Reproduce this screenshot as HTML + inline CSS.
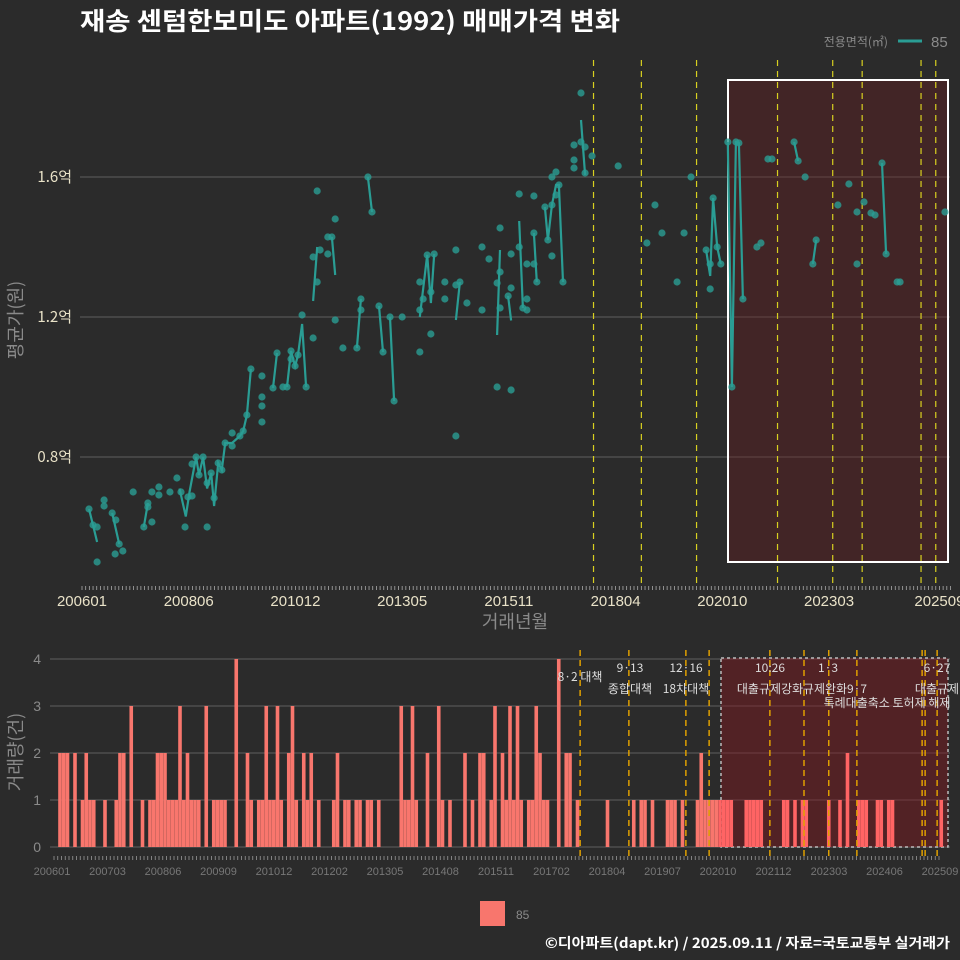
<!DOCTYPE html>
<html><head><meta charset="utf-8">
<style>
html,body{margin:0;padding:0;background:#2b2b2b;}
svg{display:block;font-family:"Liberation Sans","Noto Sans CJK KR",sans-serif;}
</style></head>
<body>
<svg id="chart" width="960" height="960" viewBox="0 0 960 960" xmlns="http://www.w3.org/2000/svg">
<rect x="0" y="0" width="960" height="960" fill="#2b2b2b"/>
<text x="80" y="30" fill="#ffffff" font-size="25" font-weight="bold" textLength="540" lengthAdjust="spacingAndGlyphs" font-family="'Noto Sans CJK KR',sans-serif">재송 센텀한보미도 아파트(1992) 매매가격 변화</text>
<g>
<text x="888" y="46" fill="#8a8a8a" font-size="12" text-anchor="end" font-family="'Noto Sans CJK KR',sans-serif">전용면적(㎡)</text>
<line x1="898" y1="41" x2="922" y2="41" stroke="#2a9d94" stroke-width="3"/>
<text x="931" y="47" fill="#8a8a8a" font-size="15">85</text>
</g>
<g id="top"></g>
<g id="bot"></g>
<g>
<rect x="480" y="901" width="25" height="25" fill="#f8766d"/>
<text x="516" y="919" fill="#8a8a8a" font-size="12">85</text>
</g>
<text x="950" y="948" fill="#ffffff" font-size="14" font-weight="bold" text-anchor="end" textLength="405" lengthAdjust="spacingAndGlyphs" font-family="'Noto Sans CJK KR',sans-serif">©디아파트(dapt.kr) / 2025.09.11 / 자료=국토교통부 실거래가</text>
</svg>
<script>
// ---- data (month index k = months since 2006-01; price in 만원) ----
var tradeMonths = [1.9,3.0,4.1,4.1,6.0,6.0,8.2,9.2,10.1,9.0,11.1,13.9,16.8,17.9,17.9,19.0,19.0,20.9,20.9,23.9,25.8,26.9,28.0,28.8,29.9,29.9,31.0,31.8,32.9,34.0,34.0,35.1,35.9,37.0,38.0,38.9,40.8,40.8,42.9,43.8,44.8,45.9,48.9,48.9,48.9,48.9,51.9,53.0,54.6,55.7,56.8,56.8,57.9,58.7,59.8,60.9,62.8,62.8,63.9,63.9,64.7,66.8,67.9,66.8,68.8,68.8,70.9,74.7,75.8,75.8,77.7,78.8,80.7,81.8,83.7,84.8,87.0,91.8,91.8,91.8,92.7,93.8,94.8,94.8,95.7,98.6,98.6,101.6,101.6,101.6,102.7,104.6,108.7,108.7,110.6,112.8,112.8,113.6,113.6,116.6,116.6,116.6,115.8,118.8,118.8,113.6,119.8,120.9,120.9,120.9,122.8,122.8,122.8,123.6,125.8,126.6,127.7,127.7,127.7,128.8,128.8,129.6,130.7,133.7,133.7,133.7,135.6,135.6,136.7,136.7,138.6,145.7,153.5,155.7,157.6,161.7,163.6,165.5,169.6,170.7,170.7,171.5,172.6,173.6,175.5,176.6,177.7,178.5,179.6,183.4,184.5,186.4,187.5,193.5,194.6,196.5,198.6,199.5,205.4,208.4,210.6,210.6,212.5,214.4,215.5,217.4,218.5,221.5,222.3,234.5];
var tradePrices = [6514,6057,6000,5000,6771,6600,6400,6200,5514,5229,5314,7000,6000,6686,6571,6143,7000,7143,6914,7000,7400,7000,6000,6857,7800,6886,8000,7486,8000,6000,7257,7543,6829,7829,7629,8400,8686,8314,8600,8743,9200,10514,10314,9714,9457,9000,9971,10971,10000,10000,11029,10800,10600,10914,12057,10000,11400,13714,13000,15600,13914,14286,14286,13800,14800,11914,11114,11114,12514,12200,16000,15000,12314,11000,12000,9600,12000,13000,12200,11000,12514,13771,12714,11514,13800,13000,12514,13914,12914,8600,13000,12400,14000,12200,13657,12971,10000,14543,13286,13800,12829,9914,12600,15514,14000,12257,12257,12200,12514,13514,13514,14400,15457,13000,15143,14200,15200,13743,16000,16143,15486,15771,13000,16914,16486,16257,18400,17000,16857,16114,16600,16314,14114,15200,14400,13000,14400,16000,13914,12800,13514,15400,14000,13514,17000,10000,17000,16971,12514,14000,14114,16514,16514,17000,16457,16000,13514,14200,15200,15800,15000,13514,15286,14971,14914,16400,13800,13000,13000,15000];
// monthly-average line segments (null = break)
var avgMonths = [1.9,3.0,4.1,null,8.2,10.1,null,16.8,17.9,null,26.5,28.2,29.2,31.0,31.8,32.9,34.0,35.1,35.9,37.0,38.0,38.9,40.8,42.9,43.8,44.8,45.9,null,51.9,53.0,null,55.7,56.8,57.9,58.7,59.8,60.9,null,62.8,63.9,null,67.9,68.8,null,74.7,75.8,null,77.7,78.8,null,80.7,81.8,null,83.7,84.8,null,91.8,93.8,94.8,95.7,null,101.6,102.7,null,113.6,112.8,null,115.8,116.6,null,118.8,119.8,null,122.8,123.6,null,125.8,126.6,127.7,128.8,129.6,130.7,null,135.6,136.7,null,169.6,170.7,171.5,172.6,173.6,null,175.5,176.6,177.7,178.5,179.6,null,193.5,194.6,null,198.6,199.5,null,217.4,218.5];
var avgPrices = [6514,6057,5571,null,6400,5514,null,6000,6686,null,7100,6300,7000,8000,7486,8000,7100,7543,6600,7829,7629,8400,8400,8600,8743,9200,10514,null,9971,10971,null,10000,11029,10600,10914,11800,10000,null,12457,14000,null,14286,13200,null,11114,12514,null,16000,15000,null,12314,11000,null,12000,9600,null,12000,13771,12400,13800,null,11914,13000,null,13914,11486,null,12600,11900,null,14743,12257,null,14400,13000,null,15143,14200,15200,15771,15771,13000,null,17629,16057,null,13914,13171,15400,14000,13514,null,17000,10000,17000,16971,12514,null,17000,16457,null,13514,14200,null,16400,13800];
var priceTicks = [8000,12000,16000];
var priceTickLabels = ["0.8억","1.2억","1.6억"];
var topXTickMonths = [0,29,58,87,116,145,174,203,233];
var topXTickLabels = ["200601","200806","201012","201305","201511","201804","202010","202303","202509"];
var topPolicyMonths = [139,152,167,189,204,212,228,232];
// monthly trade counts k=0..236
var volumes = [
2,2,2,0,2,0,1,2,1,1, 0,0,1,0,0,1,2,2,0,3, 0,0,1,0,1,1,2,2,2,1, 1,1,3,1,2,1,1,1,0,3,
0,1,1,1,1,0,0,4,0,0, 2,1,0,1,1,3,1,1,3,1, 0,2,3,1,0,2,1,2,0,1, 0,0,0,1,2,0,1,1,0,1,
1,0,1,1,0,1,0,0,0,0, 0,3,1,1,3,1,0,0,2,0, 0,3,1,0,1,0,0,0,2,0, 1,0,2,2,0,1,3,0,2,1,
3,1,3,1,0,1,1,3,2,1, 1,0,0,4,0,2,2,0,1,0, 0,0,0,0,0,0,1,0,0,0, 0,0,0,1,0,1,1,0,1,0,
0,0,1,1,1,0,1,0,0,0, 1,2,1,1,1,1,1,1,1,1, 0,0,0,1,1,1,1,1,0,0, 0,0,0,1,1,0,1,0,1,1,
0,0,0,0,0,1,0,0,1,0, 2,0,0,1,1,1,0,0,1,1, 0,1,1,0,0,0,0,0,0,0, 0,0,0,0,0,1,0];
var volTicks = [0,1,2,3,4];
var botXTickLabels = ["200601","200703","200806","200909","201012","201202","201305","201408","201511","201702","201804","201907","202010","202112","202303","202406","202509"];
var botPolicyMonths = [138.7,151.7,166.9,173.1,189.3,198.4,205,212.5,229.9,230.7,233.9];

// ---- scales ----
function tx(k){return 82+k*3.68;}
function ty(v){return 457-(v-8000)/10000*350;}
function bx(k){return 60+k*3.75;}
function by(c){return 847-c*47;}
var NS="http://www.w3.org/2000/svg";
function mk(tag,attrs,parent){var e=document.createElementNS(NS,tag);for(var a in attrs)e.setAttribute(a,attrs[a]);parent.appendChild(e);return e;}
var top_=document.getElementById('top'), bot=document.getElementById('bot');

// ---- top panel ----
var i,e;
for(i=0;i<priceTicks.length;i++){
 e=mk('line',{x1:80,x2:950,y1:ty(priceTicks[i]),y2:ty(priceTicks[i]),stroke:'#555',"stroke-width":1.2},top_);
 
 
 e=mk('text',{x:72,y:ty(priceTicks[i])+5,fill:'#e9e2c8',"font-size":15,"text-anchor":"end","font-family":"'Noto Sans CJK KR',sans-serif"},top_);
 e.textContent=priceTickLabels[i];
 
 
}
e=mk('rect',{x:728,y:80,width:220,height:482,fill:'rgba(110,25,30,0.35)',stroke:'#ffffff',"stroke-width":2},top_);


for(i=0;i<topPolicyMonths.length;i++){
 e=mk('line',{x1:tx(topPolicyMonths[i]),x2:tx(topPolicyMonths[i]),y1:60,y2:585,stroke:'#d8d020',"stroke-width":1.2,"stroke-dasharray":"6,5"},top_);
 
 
}
var d='',pen=false;
for(i=0;i<avgMonths.length;i++){
 if(avgMonths[i]===null){pen=false;continue;}
 d+=(pen?'L':'M')+tx(avgMonths[i]).toFixed(1)+','+ty(avgPrices[i]).toFixed(1);pen=true;
}
e=mk('path',{d:d,fill:'none',stroke:'#2a9d94',"stroke-width":2.2},top_);


for(i=0;i<tradeMonths.length;i++){
 e=mk('circle',{cx:tx(tradeMonths[i]),cy:ty(tradePrices[i]),r:3.6,fill:'#2a9d94',"fill-opacity":0.8},top_);
 
 
}
for(i=0;i<=236;i++){
 e=mk('line',{x1:tx(i),x2:tx(i),y1:586,y2:590,stroke:'#aaa',"stroke-width":0.8},top_);
 
 
}
for(i=0;i<topXTickMonths.length;i++){
 e=mk('text',{x:tx(topXTickMonths[i]),y:606,fill:'#e9e2c8',"font-size":15,"text-anchor":"middle"},top_);
 e.textContent=topXTickLabels[i];
 
 
}
e=mk('text',{x:515,y:628,fill:'#8a8a8a',"font-size":18,"text-anchor":"middle","font-family":"'Noto Sans CJK KR',sans-serif"},top_);
e.textContent='거래년월';


e=mk('text',{x:0,y:0,fill:'#8a8a8a',"font-size":18,"text-anchor":"middle",transform:'translate(22,320) rotate(-90)',"font-family":"'Noto Sans CJK KR',sans-serif"},top_);
e.textContent='평균가(원)';



// ---- bottom panel ----
for(i=0;i<volTicks.length;i++){
 e=mk('line',{x1:50,x2:950,y1:by(volTicks[i]),y2:by(volTicks[i]),stroke:'#555',"stroke-width":1.2},bot);
 
 
 e=mk('text',{x:41,y:by(volTicks[i])+5,fill:'#8a8a8a',"font-size":14,"text-anchor":"end"},bot);
 e.textContent=String(volTicks[i]);
 
 
}
e=mk('rect',{x:721,y:658,width:227,height:189,fill:'rgba(130,25,30,0.45)',stroke:'#bbb',"stroke-width":1.5,"stroke-dasharray":"3,3"},bot);


for(i=0;i<volumes.length;i++){
 if(!volumes[i])continue;
 e=mk('rect',{x:bx(i)-1.8,y:by(volumes[i]),width:3.6,height:volumes[i]*47,fill:(i>=176?'#ff6464':'#f8766d')},bot);
 
 
}
for(i=0;i<botPolicyMonths.length;i++){
 e=mk('line',{x1:bx(botPolicyMonths[i]),x2:bx(botPolicyMonths[i]),y1:650,y2:857,stroke:'#e0a000',"stroke-width":1.5,"stroke-dasharray":"6,4"},bot);
 
 
}
var annEl=[
 ['8·2 대책',580,681],['9·13',630,672],['종합대책',630,693],['12·16',686,672],['18차대책',686,693],
 ['10:26',770,672],['대출규제강화',770,693],['1·3',828,672],['규제완화',825,693],['9·7',857,693],
 ['특례대출축소 토허제 해제',887,707],['6·27',937,672],['대출규제',937,693]];
for(i=0;i<annEl.length;i++){
 e=mk('text',{x:annEl[i][1],y:annEl[i][2],fill:'#dddddd',"font-size":12,"text-anchor":"middle","font-family":"'Noto Sans CJK KR',sans-serif"},bot);
 e.textContent=annEl[i][0];
 
 
}
for(i=0;i<=236;i++){
 e=mk('line',{x1:bx(i)-6,x2:bx(i)-6,y1:856,y2:860,stroke:'#999',"stroke-width":0.8},bot);
 
 
}
for(i=0;i<botXTickLabels.length;i++){
 e=mk('text',{x:52+i*55.5,y:875,fill:'#777',"font-size":11,"text-anchor":"middle"},bot);
 e.textContent=botXTickLabels[i];
 
 
}
e=mk('text',{x:0,y:0,fill:'#8a8a8a',"font-size":18,"text-anchor":"middle",transform:'translate(22,752) rotate(-90)',"font-family":"'Noto Sans CJK KR',sans-serif"},bot);
e.textContent='거래량(건)';


</script>
</body></html>
